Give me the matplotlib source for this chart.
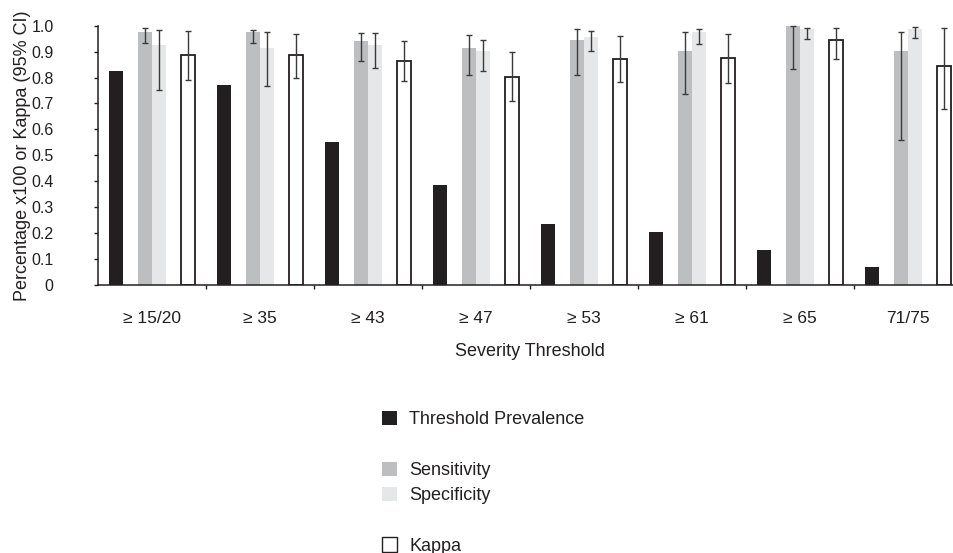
import matplotlib

matplotlib.use("Agg")
import matplotlib.pyplot as plt  # noqa: E402
import numpy as np  # noqa: E402
from matplotlib.patches import Patch  # noqa: E402

plt.rcParams["font.family"] = ["Liberation Sans", "DejaVu Sans"]

thresholds = ["\u2265 15/20", "\u2265 35", "\u2265 43", "\u2265 47", "\u2265 53", "\u2265 61", "\u2265 65", "71/75"]

prevalence = [0.825, 0.770, 0.550, 0.384, 0.234, 0.204, 0.135, 0.069]

sensitivity = [0.976, 0.976, 0.941, 0.914, 0.945, 0.902, 1.000, 0.902]
sens_lo = [0.933, 0.932, 0.865, 0.810, 0.810, 0.737, 0.833, 0.558]
sens_hi = [0.990, 0.985, 0.972, 0.965, 0.986, 0.976, 1.000, 0.976]

specificity = [0.925, 0.913, 0.925, 0.902, 0.956, 0.976, 0.987, 0.987]
spec_lo = [0.752, 0.766, 0.837, 0.825, 0.902, 0.931, 0.947, 0.951]
spec_hi = [0.982, 0.976, 0.970, 0.945, 0.981, 0.988, 0.991, 0.996]

kappa = [0.886, 0.886, 0.865, 0.803, 0.873, 0.874, 0.943, 0.846]
kappa_lo = [0.789, 0.800, 0.785, 0.709, 0.784, 0.779, 0.871, 0.679]
kappa_hi = [0.979, 0.968, 0.941, 0.898, 0.961, 0.969, 0.991, 0.992]

INK = "#231f20"
C_PREV, C_SENS, C_SPEC = "#231f20", "#bcbec0", "#e6e7e8"


def yerr(vals, lo, hi):
    v = np.array(vals)
    return [v - np.array(lo), np.array(hi) - v]


fig = plt.figure(figsize=(9.54, 5.53), dpi=100)
# the right end of the axis runs past the image edge, as in the source figure
ax = fig.add_axes([98 / 954, 1 - 285 / 553, 864 / 954, (285 - 25.7) / 553])

x = np.arange(len(thresholds))
w = 0.134
err_kw = dict(ecolor="#3a3a3a", elinewidth=1.0, capsize=2, capthick=1.0, clip_on=False)

ax.bar(x - 2.5 * w, prevalence, w, color=C_PREV)
ax.bar(x - 0.5 * w, sensitivity, w, color=C_SENS, yerr=yerr(sensitivity, sens_lo, sens_hi), error_kw=err_kw)
ax.bar(x + 0.5 * w, specificity, w, color=C_SPEC, yerr=yerr(specificity, spec_lo, spec_hi), error_kw=err_kw)
ax.bar(x + 2.5 * w, kappa, w, color="white", edgecolor=INK, linewidth=1.3,
       yerr=yerr(kappa, kappa_lo, kappa_hi), error_kw=err_kw)

ax.set_xlim(-0.5, len(thresholds) - 0.5)
ax.set_ylim(0, 1.0)
ax.set_yticks(np.arange(0, 1.01, 0.1), ["0"] + [f"{v:.1f}" for v in np.arange(0.1, 1.01, 0.1)])
ax.set_xticks(x, thresholds)
ax.set_xticks(x[1:] - 0.5, minor=True)
ax.tick_params(axis="x", which="major", length=0, pad=19, labelsize=12.5, colors=INK)
ax.tick_params(axis="x", which="minor", length=3, width=1, direction="out", color=INK)
ax.tick_params(axis="y", length=3, width=1, direction="out", labelsize=11.5, colors=INK, pad=29)

for s in ["top", "right"]:
    ax.spines[s].set_visible(False)
for s in ["left", "bottom"]:
    ax.spines[s].set_color(INK)
    ax.spines[s].set_linewidth(1.1)

ax.set_xlabel("Severity Threshold", fontsize=13, color=INK)
ax.xaxis.set_label_coords(0.5, -0.224)
ax.set_ylabel("Percentage x100 or Kappa (95% CI)", fontsize=13, color=INK)
ax.yaxis.set_label_coords(-0.077, 0.5)

blank = Patch(facecolor="none", edgecolor="none")
handles = [
    Patch(facecolor=C_PREV),
    blank,
    Patch(facecolor=C_SENS),
    Patch(facecolor=C_SPEC),
    blank,
    Patch(facecolor="white", edgecolor=INK, linewidth=1.0),
]
labels = ["Threshold Prevalence", "", "Sensitivity", "Specificity", "", "Kappa"]
fig.legend(handles, labels, loc="upper left", bbox_to_anchor=(382 / 954, 1 - 411 / 553),
           frameon=False, fontsize=13, handlelength=0.83, handleheight=0.83,
           handletextpad=0.67, labelspacing=0.44, borderpad=0, borderaxespad=0,
           labelcolor=INK)

fig.savefig("out.png", dpi=100)
